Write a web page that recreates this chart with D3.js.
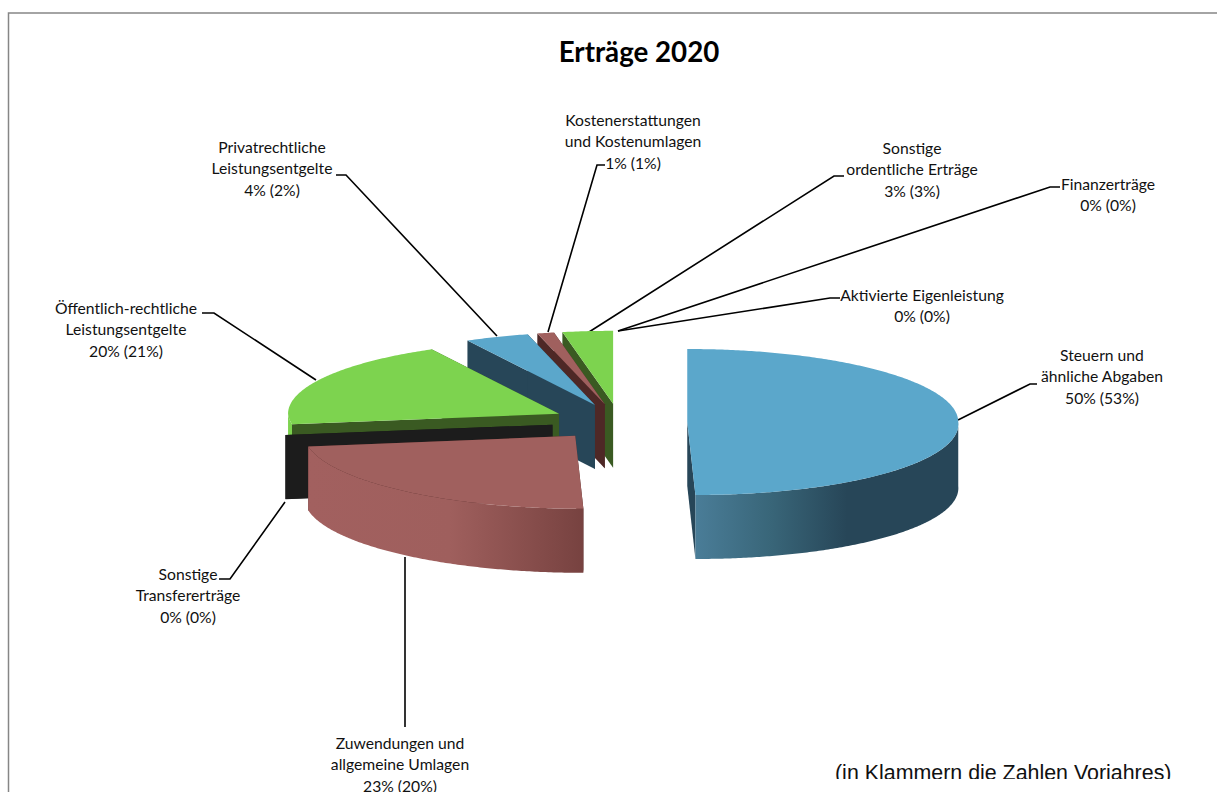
<!DOCTYPE html>
<html><head><meta charset="utf-8">
<script src="https://cdn.jsdelivr.net/npm/d3@7/dist/d3.min.js"></script>
<style>html,body{margin:0;padding:0;background:#fff;overflow:hidden}svg{display:block}</style>
</head><body><svg id="c" width="1217" height="792"></svg>
<script>
const title = "Erträge 2020";
const note = "(in Klammern die Zahlen Vorjahres)";
const names = [
  ["Steuern und","ähnliche Abgaben"],
  ["Zuwendungen und","allgemeine Umlagen"],
  ["Sonstige","Transfererträge"],
  ["Öffentlich-rechtliche","Leistungsentgelte"],
  ["Privatrechtliche","Leistungsentgelte"],
  ["Kostenerstattungen","und Kostenumlagen"],
  ["Sonstige","ordentliche Erträge"],
  ["Finanzerträge"],
  ["Aktivierte Eigenleistung"]
];
const values2020 = [50, 22.7, 0.02, 19.5, 3.8, 1, 3, 0, 0];
const valuesPrior = [53, 20, 0, 21, 2, 1, 3, 0, 0];

// style tables
const topColors  = ["#5ba7cb","#a0605e","#1c1c1c","#7dd34f","#5ba7cb","#a0605e","#7dd34f","#5ba7cb","#a0605e"];
const wallColors = ["#274658","#4e2826","#1c1c1c","#3a5a22","#274658","#4e2826","#3a5a22","#274658","#4e2826"];
const outerGrad = {
  0: [[695,"#4a7d98"],[770,"#396679"],[847,"#274658"],[958,"#274658"]],
  1: [[308,"#a2605f"],[450,"#9f5f5d"],[584,"#774240"]]
};
// annotation layout: label centre / first baseline, leader elbow and end
const labelLayout = [
  {x:1102,y:360.5,el:[[1030,384],[1037,384]],s:[958,420]},
  {x:400,y:748.5,el:[[405,727]],s:[405,557]},
  {x:188,y:579.5,el:[[230,579],[219,579]],s:[285,502]},
  {x:126,y:313.5,el:[[214,313],[202,313]],s:[316,380]},
  {x:272,y:152.5,el:[[346,175],[336,175]],s:[497,336]},
  {x:633,y:125.5,el:[[597,165],[605,165]],s:[548,332]},
  {x:912,y:153.5,el:[[834,176],[844,176]],s:[589,332]},
  {x:1108,y:189.5,el:[[1050,187],[1060,187]],s:[618,331]},
  {x:922,y:300.5,el:[[830,298],[840,298]],s:[618,331]}
];

const svg = d3.select("#c");
const X = d3.scaleLinear().domain([-1,1]).range([348.5,890.5]);
const Y = d3.scaleLinear().domain([-1,1]).range([349,495]);
const explode = 0.25, tilt = 8, depth = 64;

const arcs = d3.pie().sort(null).startAngle(0).endAngle(2*Math.PI)(values2020);
function pt(d, th, r){
  const m = (d.startAngle + d.endAngle)/2;
  const u = r*Math.sin(th) + explode*Math.sin(m);
  const v = -r*Math.cos(th) - explode*Math.cos(m);
  return [X(u) + tilt*r*Math.max(0,-Math.cos(th)), Y(v)];
}
function arcPts(d, a, b){
  const n = Math.max(2, Math.ceil((b-a)/0.01));
  return d3.range(n+1).map(i => pt(d, a+(b-a)*i/n, 1));
}
const line = d3.line();
const drop = p => [p[0], p[1]+depth];

const defs = svg.append("defs");
Object.entries(outerGrad).forEach(([i,stops])=>{
  const x0 = stops[0][0], x1 = stops[stops.length-1][0];
  const g = defs.append("linearGradient").attr("id","og"+i).attr("gradientUnits","userSpaceOnUse")
    .attr("x1",x0).attr("x2",x1).attr("y1",0).attr("y2",0);
  stops.forEach(s=>g.append("stop").attr("offset",(s[0]-x0)/(x1-x0)).attr("stop-color",s[1]));
});
defs.append("clipPath").attr("id","noteClip").append("rect").attr("x",0).attr("y",0).attr("width",1217).attr("height",779);

// frame
svg.append("path").attr("d",line([[8.5,792],[8.5,13],[1217,13]])).attr("fill","none").attr("stroke","#868686").attr("stroke-width",1.5);

// leaders
const lg = svg.append("g");
labelLayout.forEach(l=>{
  lg.append("path").attr("d",line([l.s,...l.el])).attr("fill","none").attr("stroke","#000").attr("stroke-width",1.6);
});

// slices back to front
const g = svg.append("g");
d3.range(arcs.length-1,-1,-1).forEach(i=>{
  const d = arcs[i];
  const a = d.startAngle, b = d.endAngle;
  const c = pt(d,0,0);
  [a,b].forEach(th=>{
    const o = pt(d,th,1);
    g.append("path").attr("d",line([c,o,drop(o),drop(c)])+"Z").attr("fill",wallColors[i]);
  });
  const fa = Math.max(a,Math.PI/2), fb = Math.min(b,3*Math.PI/2);
  if(fb>fa){
    const rim = arcPts(d,fa,fb);
    g.append("path").attr("d",line([...rim,...rim.slice().reverse().map(drop)])+"Z")
      .attr("fill", outerGrad[i] ? `url(#og${i})` : topColors[i]);
  }
  g.append("path").attr("d",line([c,...arcPts(d,a,b)])+"Z").attr("fill",topColors[i]);
});

// labels
const fam = "Lato, 'Noto Sans', sans-serif";
names.forEach((n,i)=>{
  const l = labelLayout[i];
  const lines = [...n, `${Math.round(values2020[i])}% (${valuesPrior[i]}%)`];
  const t = svg.append("text").attr("text-anchor","middle").attr("font-family",fam).attr("font-size",15.7).attr("fill","#111");
  lines.forEach((s,k)=>t.append("tspan").attr("x",l.x).attr("y",l.y+k*21.6).text(s));
});
svg.append("text").attr("x",639).attr("y",62).attr("text-anchor","middle").attr("font-family",fam)
  .attr("font-weight",700).attr("font-size",27.7).attr("fill","#000").text(title);
svg.append("g").attr("clip-path","url(#noteClip)").append("text").attr("x",835).attr("y",779.5)
  .attr("font-family","'Liberation Sans', Arial, sans-serif").attr("font-size",21.4).attr("fill","#111").text(note);
</script></body></html>
